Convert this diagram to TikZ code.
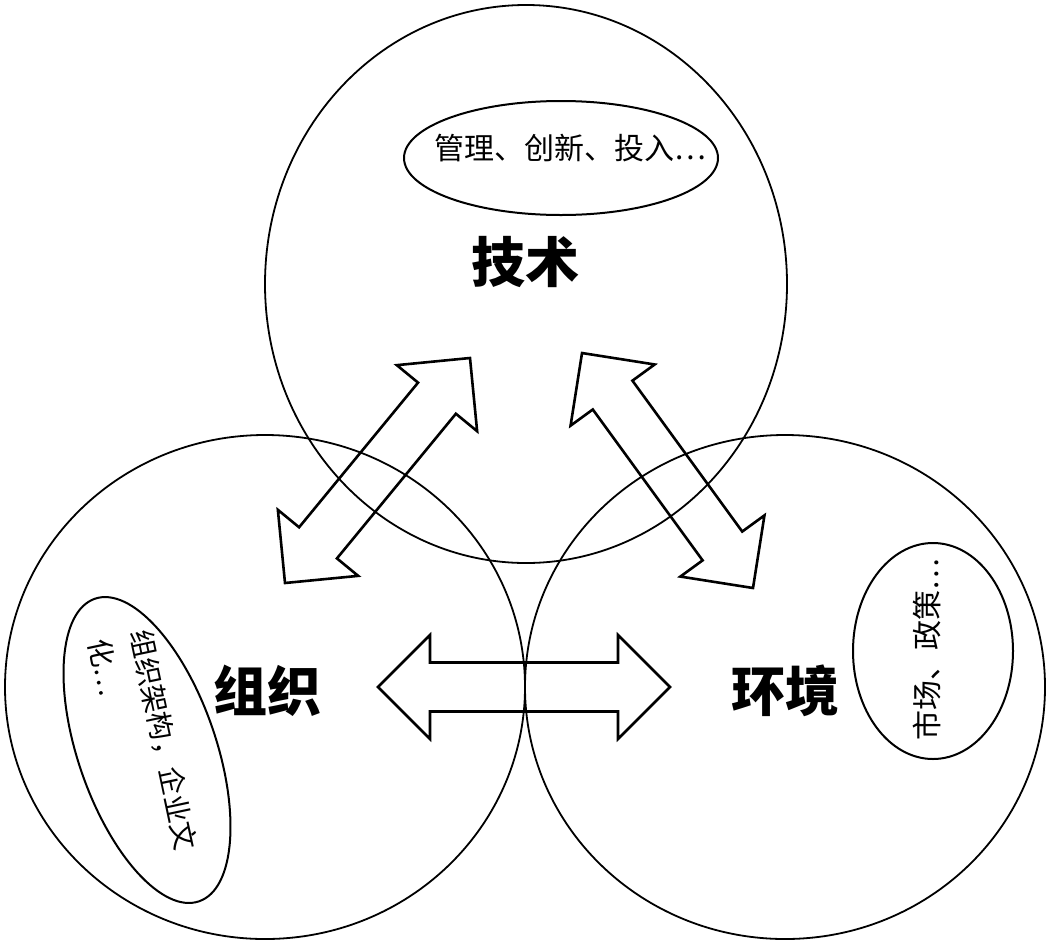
\documentclass[tikz,border=0pt]{standalone}
\usepackage{fontspec}
\newfontfamily\cjk{Noto Sans CJK SC}
\usetikzlibrary{calc}
\tikzset{
  bigcircle/.style={draw, line width=1.8pt},
  innerell/.style={draw, line width=2pt},
  title/.style={font=\cjk\bfseries\fontsize{54}{60}\selectfont, inner sep=0pt},
  small/.style={font=\cjk\fontsize{30}{38}\selectfont, inner sep=0pt},
  arrowline/.style={draw, line width=2.6pt, line join=miter},
}
\newcommand\blockarrow[2]{%
  \path[arrowline] let \p1=($(#2)-(#1)$), \n1={atan2(\y1,\x1)}, \n2={veclen(\x1,\y1)} in
    [shift={(#1)}, rotate=\n1]
    (0pt,0pt) -- (52pt,52pt) -- (52pt,24.5pt) -- ({\n2-52pt},24.5pt) -- ({\n2-52pt},52pt)
    -- (\n2,0pt) -- ({\n2-52pt},-52pt) -- ({\n2-52pt},-24.5pt) -- (52pt,-24.5pt)
    -- (52pt,-52pt) -- cycle;%
}
\begin{document}
\begin{tikzpicture}[x=1pt,y=-1pt]
\useasboundingbox[fill=white] (0,0) rectangle (1051,943);
% three big circles
\draw[bigcircle] (526,284) ellipse [x radius=261, y radius=279];
\draw[bigcircle] (265,687) ellipse [x radius=260, y radius=252];
\draw[bigcircle] (785,687) ellipse [x radius=260, y radius=252];
\coordinate (tech) at (526,284);
\coordinate (org) at (265,687);
\coordinate (env) at (785,687);
% inner ellipses
\draw[innerell] (561,158) ellipse [x radius=157, y radius=57];
\draw[innerell, rotate around={-71:(147,750)}] (147,750) ellipse [x radius=160, y radius=69];
\draw[innerell] (933,651) ellipse [x radius=80, y radius=108];
% titles
\node[title] (t1) at (525,262) {技术};
\node[title] (t2) at (267,691) {组织};
\node[title] (t3) at (785,691) {环境};
% small texts
\node[small] (s1) at (570,148) {管理、创新、投入…};
\node[small, rotate=90] (s3) at (927,650) {市场、政策…};
\node[small, font=\cjk\fontsize{28}{42}\selectfont, rotate=-78, align=left] (s2) at (146,759)
  {组织架构，企业文\\化…\phantom{组织架构，企业}};
% arrows
\coordinate (a1) at (285,583);
\coordinate (a2) at (470,358);
\coordinate (b1) at (582,353);
\coordinate (b2) at (753,588);
\coordinate (c1) at (378,687);
\coordinate (c2) at (670,687);
\blockarrow{a1}{a2}
\blockarrow{b2}{b1}
\blockarrow{c1}{c2}
\end{tikzpicture}
\end{document}
